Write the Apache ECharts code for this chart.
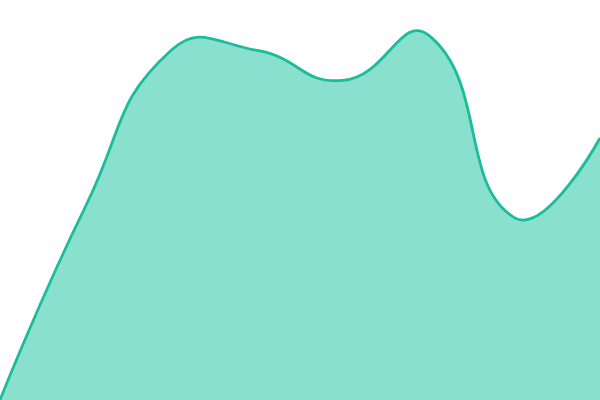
<!DOCTYPE html>
<html>
<head>
<meta charset="utf-8">
<script src="https://cdn.jsdelivr.net/npm/echarts@6/dist/echarts.min.js"></script>
<style>
html, body { margin: 0; padding: 0; background: #fff; }
#chart { width: 600px; height: 400px; }
</style>
</head>
<body>
<div id="chart"></div>
<script>
var categories = ['1', '2', '3', '4', '5', '6', '7', '8'];
var values = [0, 48.5, 87.5, 87.4, 79.9, 91.2, 45.6, 65.5];

var SMOOTH = 0.5;

// control points like the old (unclamped) line smoothing: tangent from prev to next,
// split by the length of the two neighbouring segments
function controlPoints(pts, smooth) {
    var cps = [];
    for (var i = 0; i < pts.length; i++) {
        var p = pts[i];
        if (i === 0 || i === pts.length - 1) {
            cps.push([p[0], p[1]]);
            continue;
        }
        var prev = pts[i - 1], next = pts[i + 1];
        var vx = (next[0] - prev[0]) * smooth;
        var vy = (next[1] - prev[1]) * smooth;
        var d0 = Math.sqrt(Math.pow(p[0] - prev[0], 2) + Math.pow(p[1] - prev[1], 2));
        var d1 = Math.sqrt(Math.pow(next[0] - p[0], 2) + Math.pow(next[1] - p[1], 2));
        var sum = d0 + d1;
        if (sum !== 0) { d0 /= sum; d1 /= sum; }
        cps.push([p[0] - vx * d0, p[1] - vy * d0]);
        cps.push([p[0] + vx * d1, p[1] + vy * d1]);
    }
    return cps;
}

function renderItem(params, api) {
    var pts = values.map(function (v, i) { return api.coord([i, v]); });
    var cps = controlPoints(pts, SMOOTH);
    var d = 'M' + pts[0][0] + ' ' + pts[0][1];
    for (var i = 0; i < pts.length - 1; i++) {
        var c0 = cps[i * 2], c1 = cps[i * 2 + 1], p = pts[i + 1];
        d += ' C' + c0[0] + ' ' + c0[1] + ' ' + c1[0] + ' ' + c1[1] + ' ' + p[0] + ' ' + p[1];
    }
    var base = api.coord([0, 0])[1];
    var area = d + ' L' + pts[pts.length - 1][0] + ' ' + base + ' L' + pts[0][0] + ' ' + base + ' Z';
    return {
        type: 'group',
        children: [
            { type: 'path', shape: { pathData: area }, style: { fill: '#8ae0cf', stroke: null } },
            { type: 'path', shape: { pathData: d }, style: { fill: 'none', stroke: '#1abc9c', lineWidth: 2.8 } }
        ]
    };
}

var chart = echarts.init(document.getElementById('chart'));
chart.setOption({
    animation: false,
    grid: { left: 0, right: 0, top: 0, bottom: 0 },
    xAxis: {
        type: 'category',
        boundaryGap: false,
        data: categories,
        show: false
    },
    yAxis: { type: 'value', min: 0, max: 100, show: false },
    series: [{
        type: 'custom',
        renderItem: renderItem,
        clip: false,
        data: [[0, 0]]
    }]
});
</script>
</body>
</html>
